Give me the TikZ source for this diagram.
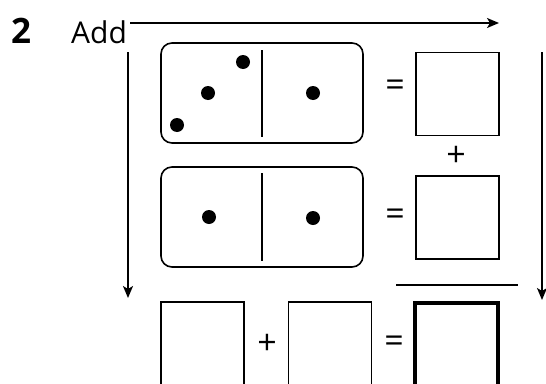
\documentclass[tikz,border=0pt]{standalone}
\usepackage{fontspec}
\setmainfont{Open Sans}
\usetikzlibrary{arrows.meta}
\begin{document}
\begin{tikzpicture}[x=1pt,y=-1pt,
  ln/.style={line width=1.6pt},
  arr/.style={ln,-{Stealth[length=12pt,width=10pt,inset=3pt]}},
  domino/.style={draw,line width=1.6pt,rounded corners=11pt,minimum width=202pt,minimum height=100pt,inner sep=0pt},
  ansbox/.style={draw,line width=1.6pt,minimum width=83pt,minimum height=83pt,inner sep=0pt},
  lowbox/.style={draw,line width=1.6pt,minimum width=83pt,minimum height=98pt,inner sep=0pt},
  pip/.style={circle,fill=black,minimum size=14pt,inner sep=0pt},
  sym/.style={font=\fontsize{34}{34}\selectfont,inner sep=0pt}
]
\clip (0,0) rectangle (546,383);
% heading
\node[anchor=base west,inner sep=0pt,font=\fontsize{35}{35}\selectfont\bfseries] (num) at (11,43) {2};
\node[anchor=base west,inner sep=0pt,font=\fontsize{30}{30}\selectfont] (add) at (71,43) {Add};
% arrows
\coordinate (ta) at (130,23);
\coordinate (tb) at (499,23);
\coordinate (la) at (128,52);
\coordinate (lb) at (128,298);
\coordinate (ra) at (542,52);
\coordinate (rb) at (542,300);
\draw[arr] (ta) -- (tb);
\draw[arr] (la) -- (lb);
\draw[arr] (ra) -- (rb);
% domino 1
\node[domino] (d1) at (262,93) {};
\coordinate (d1a) at (262,50);
\coordinate (d1b) at (262,137);
\draw[ln] (d1a) -- (d1b);
\node[pip] (p1) at (243,62) {};
\node[pip] (p2) at (208,93) {};
\node[pip] (p3) at (177,125) {};
\node[pip] (p4) at (313,93) {};
\node[sym] (eq1) at (395,88) {=};
\node[ansbox] (b1) at (457.5,94) {};
\node[sym] (pl1) at (456,156) {+};
% domino 2
\node[domino] (d2) at (262,217) {};
\coordinate (d2a) at (262,173);
\coordinate (d2b) at (262,261);
\draw[ln] (d2a) -- (d2b);
\node[pip] (p5) at (209,217) {};
\node[pip] (p6) at (313,218) {};
\node[sym] (eq2) at (395,217) {=};
\node[ansbox] (b2) at (457.5,217.5) {};
% sum line
\coordinate (sa) at (396,285);
\coordinate (sb) at (518,285);
\draw[ln] (sa) -- (sb);
% bottom row
\node[lowbox] (c1) at (202.5,351) {};
\node[sym] (pl2) at (267,344) {+};
\node[lowbox] (c2) at (330,351) {};
\node[sym] (eq3) at (394,344) {=};
\node[lowbox,line width=4pt] (c3) at (456.5,352) {};
\end{tikzpicture}
\end{document}
